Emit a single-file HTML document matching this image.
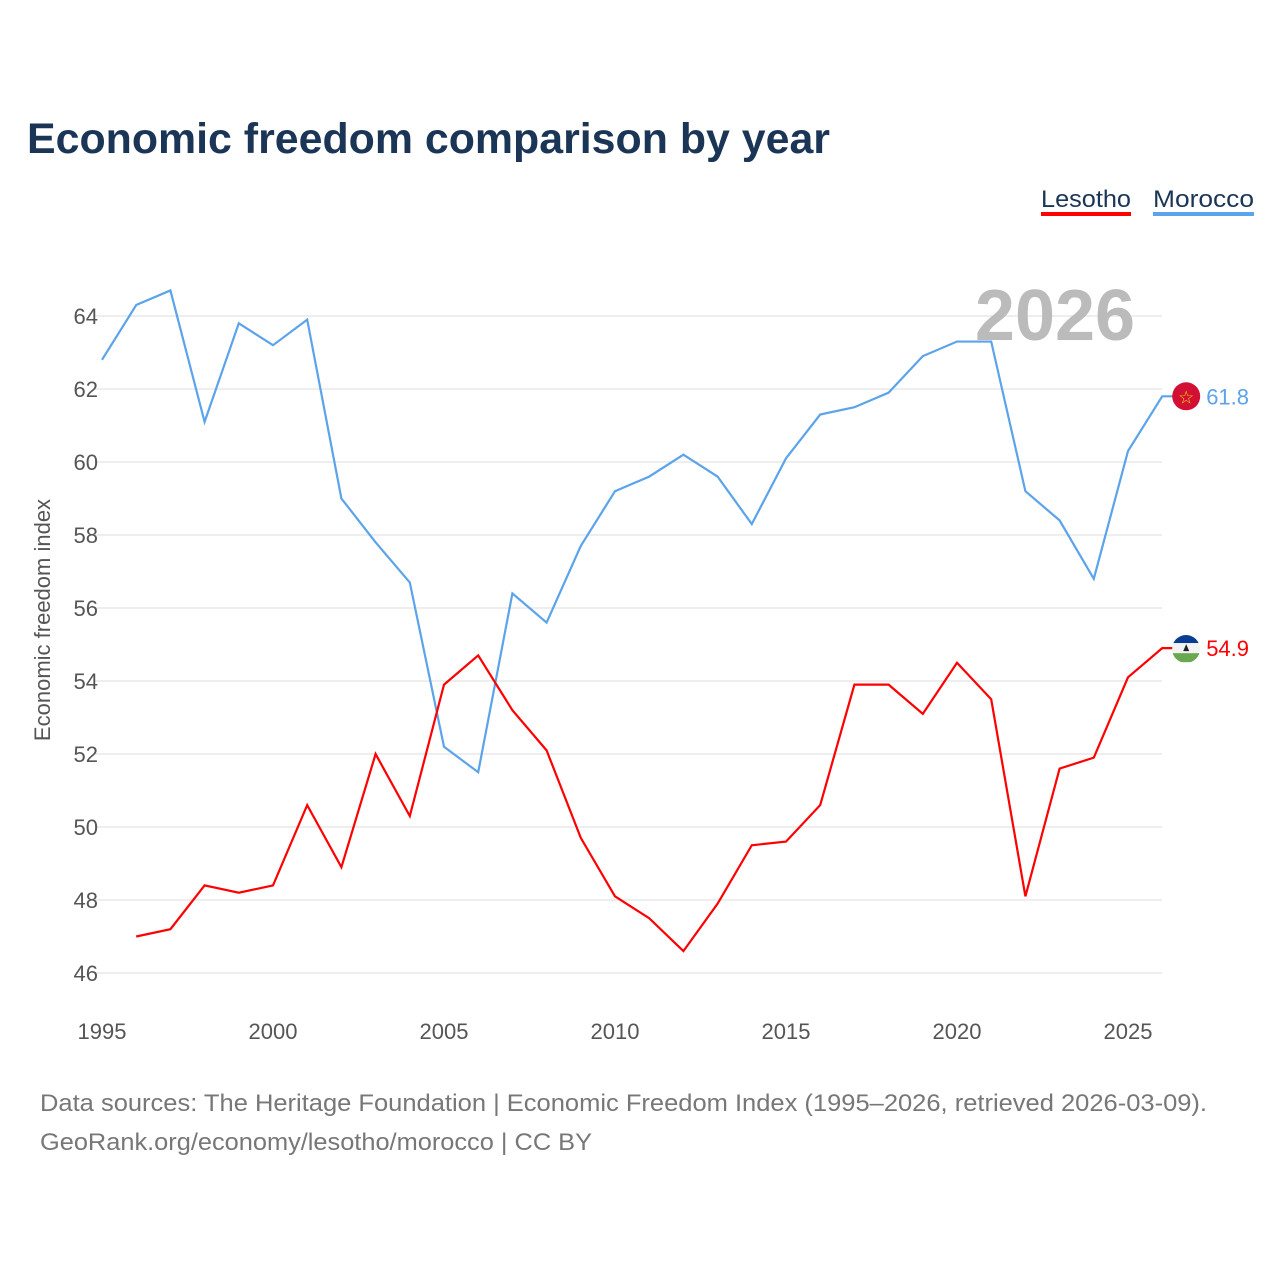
<!DOCTYPE html>
<html><head><meta charset="utf-8"><style>
body{margin:0;background:#fff;width:1280px;height:1280px;overflow:hidden;font-family:"Liberation Sans",sans-serif}
</style></head><body>
<svg width="1280" height="1280" xmlns="http://www.w3.org/2000/svg">
<defs><clipPath id="lsclip"><circle cx="1186" cy="649" r="14"/></clipPath></defs>
<text x="27" y="153" font-size="43" font-weight="bold" fill="#1b3556" textLength="803" lengthAdjust="spacingAndGlyphs">Economic freedom comparison by year</text>
<g><text x="1041" y="207" font-size="24" fill="#1b3556" textLength="90" lengthAdjust="spacingAndGlyphs">Lesotho</text><rect x="1041" y="212" width="90" height="4" fill="#f00"/></g>
<g><text x="1153" y="207" font-size="24" fill="#1b3556" textLength="101" lengthAdjust="spacingAndGlyphs">Morocco</text><rect x="1153" y="212" width="101" height="4" fill="#5ba3ea"/></g>
<g id="grid"></g>
<g id="yt"></g>
<g id="xt"></g>
<text x="1055" y="340" font-size="72" font-weight="bold" fill="#bbb" text-anchor="middle">2026</text>
<text transform="translate(50,620) rotate(-90)" font-size="22" fill="#555" text-anchor="middle">Economic freedom index</text>
<g id="lines"></g>
<text x="40" y="1111" font-size="24" fill="#777" textLength="1167" lengthAdjust="spacingAndGlyphs">Data sources: The Heritage Foundation | Economic Freedom Index (1995–2026, retrieved 2026-03-09).</text>
<text x="40" y="1150" font-size="24" fill="#777" textLength="552" lengthAdjust="spacingAndGlyphs">GeoRank.org/economy/lesotho/morocco | CC BY</text>
</svg>
<script>
const years=[1995,1996,1997,1998,1999,2000,2001,2002,2003,2004,2005,2006,2007,2008,2009,2010,2011,2012,2013,2014,2015,2016,2017,2018,2019,2020,2021,2022,2023,2024,2025,2026];
const morocco=[62.8,64.3,64.7,61.1,63.8,63.2,63.9,59.0,57.8,56.7,52.2,51.5,56.4,55.6,57.7,59.2,59.6,60.2,59.6,58.3,60.1,61.3,61.5,61.9,62.9,63.3,63.3,59.2,58.4,56.8,60.3,61.8];
const lesotho=[null,47.0,47.2,48.4,48.2,48.4,50.6,48.9,52.0,50.3,53.9,54.7,53.2,52.1,49.7,48.1,47.5,46.6,47.9,49.5,49.6,50.6,53.9,53.9,53.1,54.5,53.5,48.1,51.6,51.9,54.1,54.9];
const yTicks=[46,48,50,52,54,56,58,60,62,64];
const xTicks=[1995,2000,2005,2010,2015,2020,2025];
const NS="http://www.w3.org/2000/svg";
const X=y=>102+(y-1995)*34.2;
const Y=v=>973-(v-46)*36.5;
function el(t,a,p){const e=document.createElementNS(NS,t);for(const k in a)e.setAttribute(k,a[k]);document.getElementById(p).appendChild(e);return e;}
yTicks.forEach(v=>{
 const g=el('line',{x1:95,x2:1162,y1:Y(v),y2:Y(v),stroke:'#e8e8e8','stroke-width':1.5},'grid');
 
 
 const t=el('text',{x:98,y:Y(v)+8,'font-size':22,fill:'#555','text-anchor':'end'},'yt');t.textContent=v;
 
 
});
xTicks.forEach(v=>{
 const t=el('text',{x:X(v),y:1039,'font-size':22,fill:'#555','text-anchor':'middle'},'xt');t.textContent=v;
 
 
});
function line(data,col,name){
 let d='';data.forEach((v,i)=>{if(v==null)return;d+=(d?'L':'M')+X(years[i])+','+Y(v);});
 const last=data[data.length-1];
 const cx=X(years[years.length-1])+24;
 const cy=Y(last);
 d+='L'+(cx-12)+','+cy;
 const p=el('path',{d:d,fill:'none',stroke:col,'stroke-width':2.2},'lines');
 
 
 const g=el('g',{},'lines');
 
 
 if(name==='morocco'){
  el('circle',{cx:cx,cy:cy,r:14,fill:'#d21034'},'lines');
  el('text',{x:cx,y:cy+7,'font-size':18,fill:'#f5d90a','text-anchor':'middle'},'lines').textContent='☆';
 }else{
  el('rect',{x:cx-14,y:cy-14,width:28,height:9,fill:'#0a3d91','clip-path':'url(#lsclip)'},'lines');
  el('rect',{x:cx-14,y:cy-5,width:28,height:10,fill:'#f3f3f3','clip-path':'url(#lsclip)'},'lines');
  el('rect',{x:cx-14,y:cy+5,width:28,height:9,fill:'#6aa84f','clip-path':'url(#lsclip)'},'lines');
  el('path',{d:`M${cx-3},${cy+3}L${cx},${cy-4}L${cx+3},${cy+3}Z`,fill:'#222'},'lines');
 }
 const t=el('text',{x:cx+20,y:cy+8,'font-size':22,fill:col},'lines');t.textContent=last.toFixed(1);
 
 
}
line(morocco,'#5ba3ea','morocco');
line(lesotho,'#f00','lesotho');
</script>
</body></html>
